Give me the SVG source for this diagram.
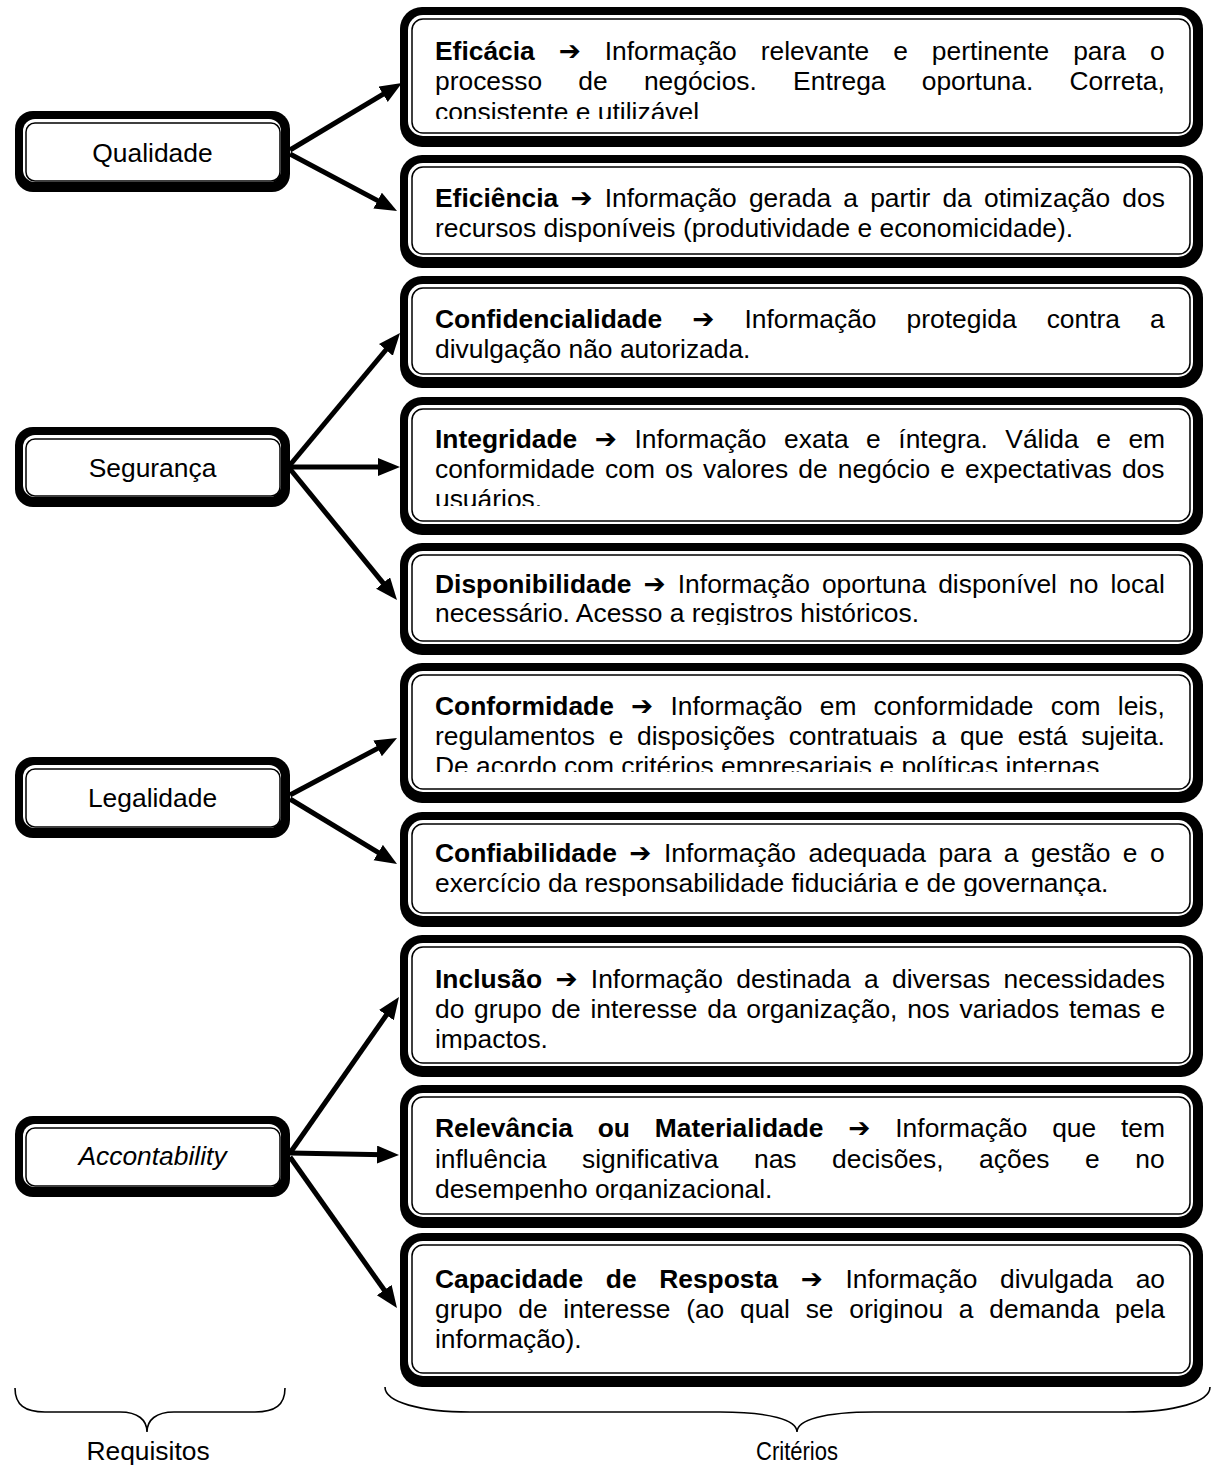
<svg xmlns="http://www.w3.org/2000/svg" width="1214" height="1465" viewBox="0 0 1214 1465">
<style>
.o{fill:#000}
.w{fill:#fff}
.l{fill:none;stroke:#000;stroke-width:1.5}
text{font-family:"Liberation Sans",Arial,sans-serif;font-size:26.4px;fill:#000}
.bd{font-weight:bold}
.ar{font-family:"DejaVu Sans",sans-serif;font-weight:bold}
.c{text-anchor:middle}
.conn line{stroke:#000;stroke-width:5;fill:none}
.br{fill:none;stroke:#000;stroke-width:1.6}
</style>
<defs>
<marker id="ah" markerUnits="userSpaceOnUse" markerWidth="24" markerHeight="20" refX="7" refY="9" orient="auto">
<path d="M0,0 L22,9 L0,18 z" fill="#000"/>
</marker>
<clipPath id="c1"><rect x="400" y="7" width="803" height="112"/></clipPath>
<clipPath id="c3"><rect x="400" y="276" width="803" height="90"/></clipPath>
<clipPath id="c4"><rect x="400" y="397" width="803" height="109"/></clipPath>
<clipPath id="c5"><rect x="400" y="543" width="803" height="82"/></clipPath>
<clipPath id="c6"><rect x="400" y="663" width="803" height="109"/></clipPath>
<clipPath id="c7"><rect x="400" y="812" width="803" height="84"/></clipPath>
<clipPath id="c8"><rect x="400" y="935" width="803" height="115"/></clipPath>
<clipPath id="c9"><rect x="400" y="1085" width="803" height="115"/></clipPath>
</defs>
<rect width="1214" height="1465" fill="#fff"/>

<g id="connectors" class="conn">
<line x1="290" y1="150" x2="389.1" y2="90.7" marker-end="url(#ah)"/>
<line x1="290" y1="154" x2="383.8" y2="203.9" marker-end="url(#ah)"/>
<line x1="290" y1="465" x2="390.4" y2="344.5" marker-end="url(#ah)"/>
<line x1="290" y1="467" x2="385" y2="467" marker-end="url(#ah)"/>
<line x1="290" y1="469" x2="387.5" y2="588.4" marker-end="url(#ah)"/>
<line x1="290" y1="795" x2="383.8" y2="745.1" marker-end="url(#ah)"/>
<line x1="290" y1="799" x2="384.2" y2="856.2" marker-end="url(#ah)"/>
<line x1="290" y1="1153" x2="390.4" y2="1009.3" marker-end="url(#ah)"/>
<line x1="290" y1="1153" x2="384" y2="1154.7" marker-end="url(#ah)"/>
<line x1="290" y1="1157" x2="388.3" y2="1295.8" marker-end="url(#ah)"/>
</g>

<g id="qualidade">
<rect class="o" x="15" y="111" width="275" height="81" rx="18"/>
<rect class="w" x="23" y="119" width="258" height="63" rx="12"/>
<rect class="l" x="26" y="123" width="254" height="58" rx="9"/>
<text class="c" x="152.5" y="162">Qualidade</text>
</g>
<g id="seguranca">
<rect class="o" x="15" y="427" width="275" height="80" rx="18"/>
<rect class="w" x="23" y="435" width="258" height="62" rx="12"/>
<rect class="l" x="26" y="439" width="254" height="57" rx="9"/>
<text class="c" x="152.5" y="477">Segurança</text>
</g>
<g id="legalidade">
<rect class="o" x="15" y="757" width="275" height="81" rx="18"/>
<rect class="w" x="23" y="765" width="258" height="63" rx="12"/>
<rect class="l" x="26" y="769" width="254" height="58" rx="9"/>
<text class="c" x="152.5" y="807">Legalidade</text>
</g>
<g id="accontability">
<rect class="o" x="15" y="1116" width="275" height="81" rx="18"/>
<rect class="w" x="23" y="1124" width="258" height="63" rx="12"/>
<rect class="l" x="26" y="1128" width="254" height="58" rx="9"/>
<text class="c" x="152.5" y="1165" font-style="italic">Accontability</text>
</g>

<g id="eficacia">
<rect class="o" x="400" y="7" width="803" height="140" rx="22"/>
<rect class="w" x="408" y="15" width="785" height="121" rx="15"/>
<rect class="l" x="412" y="19" width="778" height="114" rx="11"/>
<g clip-path="url(#c1)">
<text x="435" y="59.5" style="word-spacing:16.6px"><tspan class="bd">Eficácia</tspan> <tspan class="ar">➔</tspan> Informação relevante e pertinente para o</text>
<text x="435" y="90" style="word-spacing:28.9px">processo de negócios. Entrega oportuna. Correta,</text>
<text x="435" y="120.5">consistente e utilizável</text>
</g>
</g>
<g id="eficiencia">
<rect class="o" x="400" y="155" width="803" height="113" rx="22"/>
<rect class="w" x="408" y="163" width="785" height="94" rx="15"/>
<rect class="l" x="412" y="167" width="778" height="87" rx="11"/>
<text x="435" y="207" style="word-spacing:4.85px"><tspan class="bd">Eficiência</tspan> <tspan class="ar">➔</tspan> Informação gerada a partir da otimização dos</text>
<text x="435" y="237">recursos disponíveis (produtividade e economicidade).</text>
</g>
<g id="confidencialidade">
<rect class="o" x="400" y="276" width="803" height="112" rx="22"/>
<rect class="w" x="408" y="284" width="785" height="93" rx="15"/>
<rect class="l" x="412" y="288" width="778" height="86" rx="11"/>
<g clip-path="url(#c3)">
<text x="435" y="328" style="word-spacing:22.7px"><tspan class="bd">Confidencialidade</tspan> <tspan class="ar">➔</tspan> Informação protegida contra a</text>
<text x="435" y="358">divulgação não autorizada.</text>
</g>
</g>
<g id="integridade">
<rect class="o" x="400" y="397" width="803" height="138" rx="22"/>
<rect class="w" x="408" y="405" width="785" height="119" rx="15"/>
<rect class="l" x="412" y="409" width="778" height="112" rx="11"/>
<g clip-path="url(#c4)">
<text x="435" y="448" style="word-spacing:10.2px"><tspan class="bd">Integridade</tspan> <tspan class="ar">➔</tspan> Informação exata e íntegra. Válida e em</text>
<text x="435" y="478" style="word-spacing:2.8px">conformidade com os valores de negócio e expectativas dos</text>
<text x="435" y="508">usuários.</text>
</g>
</g>
<g id="disponibilidade">
<rect class="o" x="400" y="543" width="803" height="112" rx="22"/>
<rect class="w" x="408" y="551" width="785" height="93" rx="15"/>
<rect class="l" x="412" y="555" width="778" height="86" rx="11"/>
<g clip-path="url(#c5)">
<text x="435" y="593" style="word-spacing:4.75px"><tspan class="bd">Disponibilidade</tspan> <tspan class="ar">➔</tspan> Informação oportuna disponível no local</text>
<text x="435" y="622">necessário. Acesso a registros históricos.</text>
</g>
</g>
<g id="conformidade">
<rect class="o" x="400" y="663" width="803" height="140" rx="22"/>
<rect class="w" x="408" y="671" width="785" height="121" rx="15"/>
<rect class="l" x="412" y="675" width="778" height="114" rx="11"/>
<g clip-path="url(#c6)">
<text x="435" y="715" style="word-spacing:9.9px"><tspan class="bd">Conformidade</tspan> <tspan class="ar">➔</tspan> Informação em conformidade com leis,</text>
<text x="435" y="745" style="word-spacing:6.4px">regulamentos e disposições contratuais a que está sujeita.</text>
<text x="435" y="775">De acordo com critérios empresariais e políticas internas.</text>
</g>
</g>
<g id="confiabilidade">
<rect class="o" x="400" y="812" width="803" height="115" rx="22"/>
<rect class="w" x="408" y="820" width="785" height="96" rx="15"/>
<rect class="l" x="412" y="824" width="778" height="89" rx="11"/>
<g clip-path="url(#c7)">
<text x="435" y="862" style="word-spacing:5.2px"><tspan class="bd">Confiabilidade</tspan> <tspan class="ar">➔</tspan> Informação adequada para a gestão e o</text>
<text x="435" y="892">exercício da responsabilidade fiduciária e de governança.</text>
</g>
</g>
<g id="inclusao">
<rect class="o" x="400" y="935" width="803" height="142" rx="22"/>
<rect class="w" x="408" y="943" width="785" height="123" rx="15"/>
<rect class="l" x="412" y="947" width="778" height="116" rx="11"/>
<g clip-path="url(#c8)">
<text x="435" y="988" style="word-spacing:6px"><tspan class="bd">Inclusão</tspan> <tspan class="ar">➔</tspan> Informação destinada a diversas necessidades</text>
<text x="435" y="1018" style="word-spacing:2.4px">do grupo de interesse da organização, nos variados temas e</text>
<text x="435" y="1048">impactos.</text>
</g>
</g>
<g id="relevancia">
<rect class="o" x="400" y="1085" width="803" height="143" rx="22"/>
<rect class="w" x="408" y="1093" width="785" height="124" rx="15"/>
<rect class="l" x="412" y="1097" width="778" height="117" rx="11"/>
<g clip-path="url(#c9)">
<text x="435" y="1137" style="word-spacing:17.5px"><tspan class="bd">Relevância ou Materialidade</tspan> <tspan class="ar">➔</tspan> Informação que tem</text>
<text x="435" y="1167.5" style="word-spacing:28.2px">influência significativa nas decisões, ações e no</text>
<text x="435" y="1198">desempenho organizacional.</text>
</g>
</g>
<g id="capacidade">
<rect class="o" x="400" y="1233" width="803" height="154" rx="22"/>
<rect class="w" x="408" y="1241" width="785" height="135" rx="15"/>
<rect class="l" x="412" y="1245" width="778" height="128" rx="11"/>
<text x="435" y="1288" style="word-spacing:15.3px"><tspan class="bd">Capacidade de Resposta</tspan> <tspan class="ar">➔</tspan> Informação divulgada ao</text>
<text x="435" y="1318" style="word-spacing:8.4px">grupo de interesse (ao qual se originou a demanda pela</text>
<text x="435" y="1348">informação).</text>
</g>

<g id="requisitos">
<path class="br" d="M15,1388 C15,1405 25,1412 45,1412 L120,1412 C138,1412 147,1420 147,1432 C147,1420 156,1412 174,1412 L255,1412 C275,1412 285,1405 285,1388"/>
<text class="c" x="148" y="1460">Requisitos</text>
</g>
<g id="criterios">
<path class="br" d="M385,1387 C385,1402 420,1412 470,1412 L720,1412 C770,1412 797,1420 797,1432 C797,1420 824,1412 874,1412 L1125,1412 C1175,1412 1210,1402 1210,1387"/>
<text class="c" x="797" y="1460" textLength="82" lengthAdjust="spacingAndGlyphs">Critérios</text>
</g>
</svg>
